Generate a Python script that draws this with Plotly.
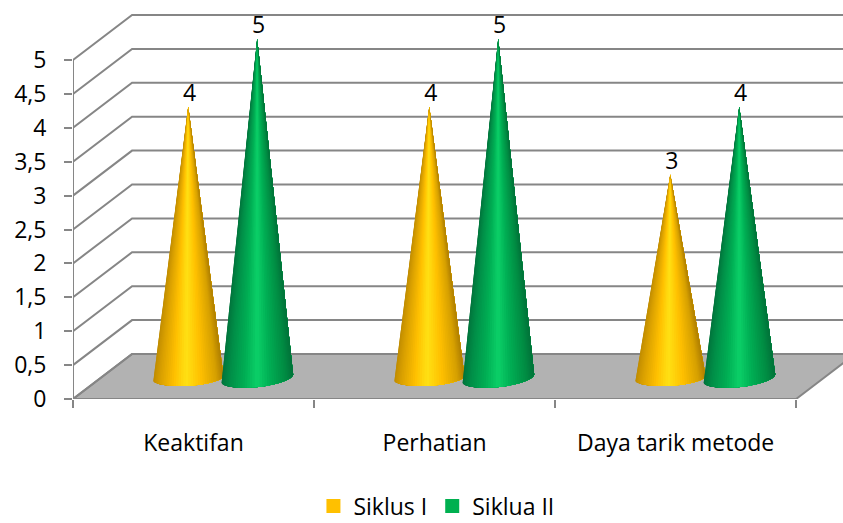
import numpy as np
import plotly.graph_objects as go

categories = ["Keaktifan", "Perhatian", "Daya tarik metode"]
series_names = ["Siklus I", "Siklua II"]
siklus_1 = [4, 4, 3]
siklus_2 = [5, 5, 4]
y_ticks = [0, 0.5, 1, 1.5, 2, 2.5, 3, 3.5, 4, 4.5, 5]
y_ticktext = ["0", "0,5", "1", "1,5", "2", "2,5", "3", "3,5", "4", "4,5", "5"]

# pseudo-3D projection constants (axis units)
DX, DY = 0.245, 0.664          # depth shift of the back wall
BASE_Y = 0.31                  # cone base level
SERIES_X = [0.478, 0.764]      # cone centre within a category
HALF_W = [0.146, 0.149]
DEPTH = [0.115, 0.135]
TILT = [0.03, 0.055]
GRID = "#868686"
FONT = "Open Sans, sans-serif"
FS = 23

PALETTE = [
    [(0.0, "#C08C00"), (0.1, "#D9A000"), (0.3, "#FFC000"), (0.47, "#FFE114"), (0.68, "#FFC000"), (0.9, "#D6A000"), (1.0, "#B08000")],
    [(0.0, "#00743C"), (0.12, "#008F48"), (0.32, "#00AE54"), (0.5, "#0BD068"), (0.68, "#00AE54"), (0.9, "#008A42"), (1.0, "#00733A")],
]
LEGEND_COL = ["#FFC000", "#00B050"]


def hex2rgb(h):
    return np.array([int(h[i:i + 2], 16) for i in (1, 3, 5)], float)


def shade(stops, f):
    pos = [s[0] for s in stops]
    rgb = np.array([hex2rgb(s[1]) for s in stops])
    c = [np.interp(f, pos, rgb[:, k]) for k in range(3)]
    return "rgb(%d,%d,%d)" % tuple(int(round(v)) for v in c)


fig = go.Figure()
n_cat = len(categories)

# floor
fig.add_trace(go.Scatter(
    x=[0, DX, n_cat + DX, n_cat, 0], y=[0, DY, DY, 0, 0], mode="lines",
    fill="toself", fillcolor="#B2B2B2", line=dict(color=GRID, width=2),
    showlegend=False, hoverinfo="skip", cliponaxis=False))

# walls: grid lines
gx, gy = [], []
for t in y_ticks:
    gx += [0, DX, n_cat + DX, None]
    gy += [t, t + DY, t + DY, None]
fig.add_trace(go.Scatter(x=gx, y=gy, mode="lines", line=dict(color=GRID, width=2),
                         showlegend=False, hoverinfo="skip", cliponaxis=False))

# value axis line + category axis line
fig.add_trace(go.Scatter(x=[0, 0, None, 0, n_cat], y=[y_ticks[-1], 0, None, 0, 0], mode="lines",
                         line=dict(color=GRID, width=2),
                         showlegend=False, hoverinfo="skip", cliponaxis=False))

# cones: painter's algorithm, every layer runs from its left edge to the right silhouette
N = 44
for s, values in enumerate([siklus_1, siklus_2]):
    for i, v in enumerate(values):
        cx = i + SERIES_X[s]
        top = BASE_Y + v
        tt = np.sin(np.linspace(-1, 1, N + 1) * np.pi / 2)
        by = BASE_Y + TILT[s] * tt - DEPTH[s] * np.sqrt(np.clip(1 - tt * tt, 0, 1))
        for j in range(N):
            col = shade(PALETTE[s], ((tt[j] + tt[j + 1]) / 2 + 1) / 2)
            xs = [cx] + list(cx + tt[j:] * HALF_W[s]) + [cx]
            ys = [top] + list(by[j:]) + [top]
            fig.add_trace(go.Scatter(x=xs, y=ys, mode="lines", fill="toself", fillcolor=col,
                                     line=dict(width=0), showlegend=False, hoverinfo="skip"))

# data labels
for s, values in enumerate([siklus_1, siklus_2]):
    fig.add_trace(go.Scatter(
        x=[i + SERIES_X[s] + 0.006 for i in range(n_cat)], y=[BASE_Y + v for v in values],
        mode="text", text=[str(v) for v in values], textposition="top center",
        textfont=dict(family=FONT, size=FS, color="#000000"),
        showlegend=False, hoverinfo="skip", cliponaxis=False))

# legend entries
for s, name in enumerate(series_names):
    fig.add_trace(go.Scatter(x=[None], y=[None], mode="markers", name=name,
                             marker=dict(symbol="square", size=14, color=LEGEND_COL[s])))

L, R, B = 72.5, 0, 124
px_per_cat = 241.2
px_per_unit = 67.8
fig.update_layout(
    width=843, height=523,
    margin=dict(l=L, r=R, t=0, b=B, autoexpand=False),
    paper_bgcolor="white", plot_bgcolor="white",
    font=dict(family=FONT, size=FS, color="#000000"),
    xaxis=dict(range=[0, (843 - L - R) / px_per_cat], tickmode="array",
               tickvals=[i + 0.5 for i in range(n_cat)], ticktext=categories,
               ticks="outside", ticklen=23, tickcolor="rgba(0,0,0,0)", tickwidth=1,
               showgrid=False, zeroline=False, showline=False,
               minor=dict(tickmode="array", tickvals=list(range(n_cat + 1)), ticks="outside",
                          ticklen=8, tickcolor=GRID, tickwidth=2, showgrid=False)),
    yaxis=dict(range=[0, (523 - B) / px_per_unit], tickmode="array", tickvals=y_ticks,
               ticktext=y_ticktext, ticks="outside", ticklen=8, tickcolor=GRID, tickwidth=2,
               ticklabelstandoff=13, showgrid=False, zeroline=False, showline=False),
    legend=dict(orientation="h", x=0.472, xref="paper", xanchor="center", y=-0.268, yanchor="middle",
                font=dict(family=FONT, size=FS), itemwidth=30, bgcolor="rgba(0,0,0,0)"),
    showlegend=True,
)
fig.write_html("out.html", config=dict(displayModeBar=False),
               post_script="document.body.style.margin='0';document.body.style.overflow='hidden';")
